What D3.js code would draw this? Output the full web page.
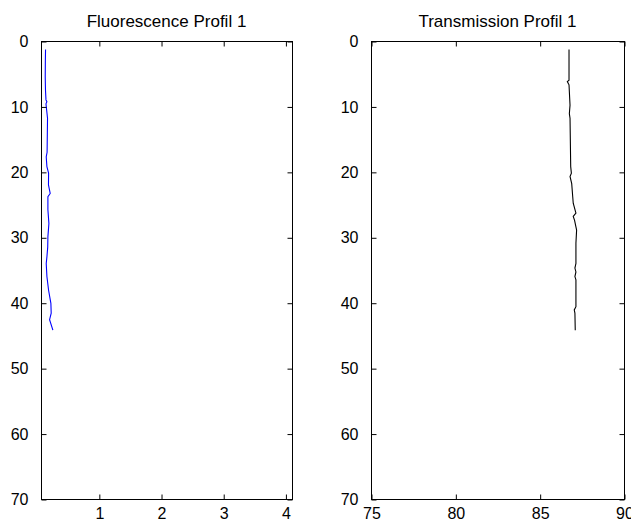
<!DOCTYPE html>
<html>
<head>
<meta charset="utf-8">
<script src="https://cdn.jsdelivr.net/npm/d3@7"></script>
<style>
  html, body { margin: 0; padding: 0; background: #fff; }
  svg { display: block; }
  text { font-family: Arial, "Liberation Sans", Helvetica, sans-serif; fill: #000; }
</style>
</head>
<body>
<svg id="chart" width="631" height="522"></svg>
<script>
// ---- data ----
const fluoDepth = [1.3, 3.0, 5.5, 7.5, 9.0, 9.3, 9.6, 11.8, 14.0, 17.0, 17.7, 19.2, 20.2, 22.0, 23.3, 23.8, 25.8, 27.9, 29.9, 31.5, 33.0, 34.0, 36.0, 38.1, 40.1, 41.6, 42.6, 44.2];
const fluoValue = [0.143, 0.140, 0.138, 0.142, 0.150, 0.165, 0.150, 0.175, 0.172, 0.168, 0.154, 0.165, 0.192, 0.190, 0.218, 0.181, 0.181, 0.197, 0.181, 0.178, 0.165, 0.154, 0.165, 0.192, 0.229, 0.234, 0.208, 0.261];

const transDepth = [1.3, 6.0, 6.2, 6.7, 9.8, 11.1, 11.8, 19.2, 20.2, 20.7, 21.8, 23.8, 24.8, 26.3, 26.8, 27.4, 28.4, 28.9, 30.9, 34.0, 34.7, 35.3, 36.0, 36.5, 40.6, 41.1, 41.6, 44.2];
const transValue = [86.74, 86.74, 86.64, 86.74, 86.80, 86.76, 86.80, 86.84, 86.88, 86.80, 86.90, 86.96, 86.99, 87.15, 86.99, 87.07, 87.15, 87.19, 87.15, 87.15, 87.09, 87.15, 87.09, 87.15, 87.15, 87.05, 87.09, 87.11];

const depthTicks = [0, 10, 20, 30, 40, 50, 60, 70];
const fluoTicks = [1, 2, 3, 4];
const transTicks = [75, 80, 85, 90];

const panels = [
  { title: "Fluorescence Profil 1", x0: 41, x1: 292, domain: [0.07, 4.106], ticks: fluoTicks, depth: fluoDepth, value: fluoValue, color: "#0000ff" },
  { title: "Transmission Profil 1", x0: 371, x1: 624, domain: [75, 90], ticks: transTicks, depth: transDepth, value: transValue, color: "#000000" }
];

const svg = d3.select("#chart");
const plotTop = 41, plotBottom = 499;
const tickLen = 5;
const fs = 16;

panels.forEach(p => {
  const x = d3.scaleLinear().domain(p.domain).range([p.x0, p.x1]);
  const y = d3.scaleLinear().domain([0, 70]).range([plotTop, plotBottom]);
  const g = svg.append("g");

  const line = d3.line().x((d, i) => x(p.value[i])).y((d, i) => y(p.depth[i]));
  g.append("path")
    .datum(p.depth)
    .attr("d", line)
    .attr("fill", "none")
    .attr("stroke", p.color)
    .attr("stroke-width", 1.1);

  g.append("rect")
    .attr("x", p.x0 + 0.5).attr("y", plotTop + 0.5)
    .attr("width", p.x1 - p.x0).attr("height", plotBottom - plotTop)
    .attr("fill", "none").attr("stroke", "#000").attr("stroke-width", 1);

  const yAxisL = d3.axisLeft(y).tickValues(depthTicks).tickSize(-tickLen).tickPadding(tickLen + 8).tickFormat(d3.format("d"));
  const gyl = g.append("g").attr("transform", `translate(${p.x0 + 0.5},0.5)`).call(yAxisL);
  gyl.select(".domain").remove();
  gyl.selectAll("text").attr("font-size", fs).attr("font-family", "Arial, 'Liberation Sans', sans-serif");

  const yAxisR = d3.axisRight(y).tickValues(depthTicks).tickSize(-tickLen).tickFormat("");
  const gyr = g.append("g").attr("transform", `translate(${p.x1 + 0.5},0.5)`).call(yAxisR);
  gyr.select(".domain").remove();

  const xAxisB = d3.axisBottom(x).tickValues(p.ticks).tickSize(-tickLen).tickPadding(tickLen + 3).tickFormat(d3.format("d"));
  const gxb = g.append("g").attr("transform", `translate(0.5,${plotBottom + 0.5})`).call(xAxisB);
  gxb.select(".domain").remove();
  gxb.selectAll("text").attr("font-size", fs).attr("font-family", "Arial, 'Liberation Sans', sans-serif");

  const xAxisT = d3.axisTop(x).tickValues(p.ticks).tickSize(-tickLen).tickFormat("");
  const gxt = g.append("g").attr("transform", `translate(0.5,${plotTop + 0.5})`).call(xAxisT);
  gxt.select(".domain").remove();

  g.append("text")
    .attr("x", (p.x0 + p.x1) / 2)
    .attr("y", 27)
    .attr("text-anchor", "middle")
    .attr("font-size", 17)
    .text(p.title);
});
</script>
</body>
</html>
